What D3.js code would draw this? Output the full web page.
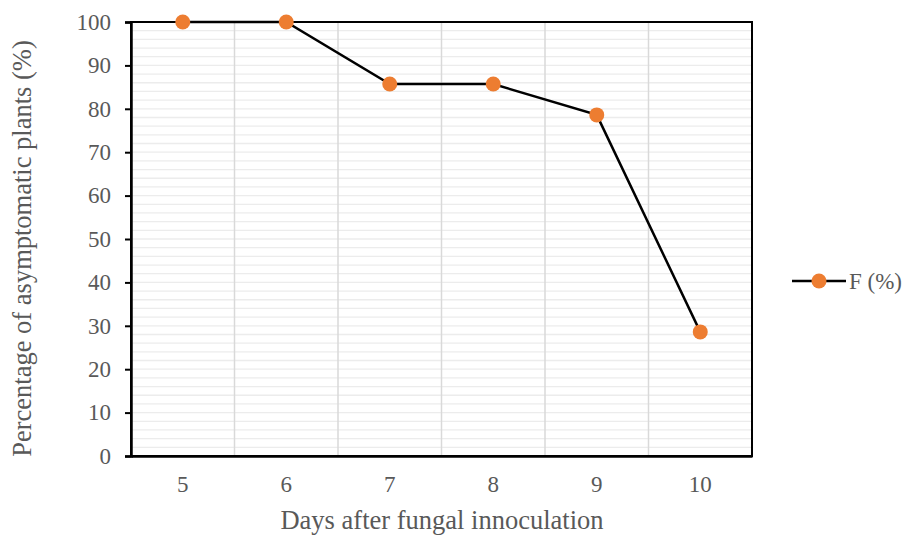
<!DOCTYPE html>
<html>
<head>
<meta charset="utf-8">
<script src="https://cdn.jsdelivr.net/npm/d3@7"></script>
<style>
  html, body { margin: 0; padding: 0; background: #fff; }
  svg { display: block; }
  svg text { font-family: "Liberation Serif", "Times New Roman", "DejaVu Serif", serif !important; }
</style>
</head>
<body>
<svg id="chart" width="907" height="535"></svg>
<script>
// Days after inoculation and share of plants still without symptoms
const days = ["5", "6", "7", "8", "9", "10"];
const asymptomatic = [100, 100, 85.7, 85.7, 78.6, 28.6];
const yTicks = [0, 10, 20, 30, 40, 50, 60, 70, 80, 90, 100];
const minorTicks = d3.range(0, 101, 2);
const seriesName = "F (%)";
const xTitle = "Days after fungal innoculation";
const yTitle = "Percentage of asymptomatic plants (%)";

const svg = d3.select("#chart");
const plotLeft = 131, plotRight = 752, plotTop = 22, plotBottom = 456;
const tickFont = 23, titleFont = 26.5;

const x = d3.scaleBand().domain(days).range([plotLeft, plotRight]).padding(0);
const y = d3.scaleLinear().domain([0, 100]).range([plotBottom, plotTop]);

// faint horizontal minor grid
svg.append("g").selectAll("line")
  .data(minorTicks)
  .join("line")
  .attr("x1", plotLeft).attr("x2", plotRight)
  .attr("y1", d => y(d)).attr("y2", d => y(d))
  .attr("stroke", "#ececec").attr("stroke-width", 1.3);

// vertical separators between categories
svg.append("g").selectAll("line")
  .data(days.slice(1))
  .join("line")
  .attr("x1", d => x(d)).attr("x2", d => x(d))
  .attr("y1", plotTop).attr("y2", plotBottom)
  .attr("stroke", "#d9d9d9").attr("stroke-width", 1.5);

// plot frame
svg.append("rect")
  .attr("x", plotLeft).attr("y", plotTop)
  .attr("width", plotRight - plotLeft).attr("height", plotBottom - plotTop)
  .attr("fill", "none").attr("stroke", "#000").attr("stroke-width", 2);

// y axis
const yAxis = svg.append("g")
  .attr("transform", `translate(${plotLeft},0)`)
  .call(d3.axisLeft(y).tickValues(yTicks).tickSize(6).tickPadding(14));
yAxis.attr("font-family", null);
yAxis.select(".domain").attr("stroke", "#000").attr("stroke-width", 2.5);
yAxis.selectAll(".tick line").attr("stroke", "#000").attr("stroke-width", 2);
yAxis.selectAll(".tick text")
  .attr("fill", "#595959").attr("font-size", tickFont);

// x axis
const xAxis = svg.append("g")
  .attr("transform", `translate(0,${plotBottom})`)
  .call(d3.axisBottom(x).tickSize(0).tickPadding(20));
xAxis.attr("font-family", null);
xAxis.select(".domain").attr("stroke", "#000").attr("stroke-width", 2.5);
xAxis.selectAll(".tick text")
  .attr("fill", "#595959").attr("font-size", tickFont);

// series line and markers
const cx = d => x(d) + x.bandwidth() / 2;
const points = days.map((d, i) => [d, asymptomatic[i]]);
svg.append("path")
  .datum(points)
  .attr("fill", "none").attr("stroke", "#000").attr("stroke-width", 2.5)
  .attr("d", d3.line().x(d => cx(d[0])).y(d => y(d[1])));

svg.append("g").selectAll("circle")
  .data(points)
  .join("circle")
  .attr("cx", d => cx(d[0])).attr("cy", d => y(d[1]))
  .attr("r", 7.5).attr("fill", "#ED7D31");

// axis titles
svg.append("text")
  .attr("x", 442).attr("y", 529)
  .attr("text-anchor", "middle")
  .attr("fill", "#595959").attr("font-size", titleFont)
  .text(xTitle);

svg.append("text")
  .attr("transform", "translate(31,248.5) rotate(-90)")
  .attr("text-anchor", "middle")
  .attr("fill", "#595959").attr("font-size", titleFont)
  .text(yTitle);

// legend
const lg = svg.append("g").attr("transform", "translate(792,281)");
lg.append("line").attr("x1", 0).attr("x2", 54).attr("y1", 0).attr("y2", 0)
  .attr("stroke", "#000").attr("stroke-width", 2.5);
lg.append("circle").attr("cx", 27).attr("cy", 0).attr("r", 7.5).attr("fill", "#ED7D31");
lg.append("text").attr("x", 57).attr("y", 8)
  .attr("fill", "#595959").attr("font-size", tickFont)
  .text(seriesName);
</script>
</body>
</html>
